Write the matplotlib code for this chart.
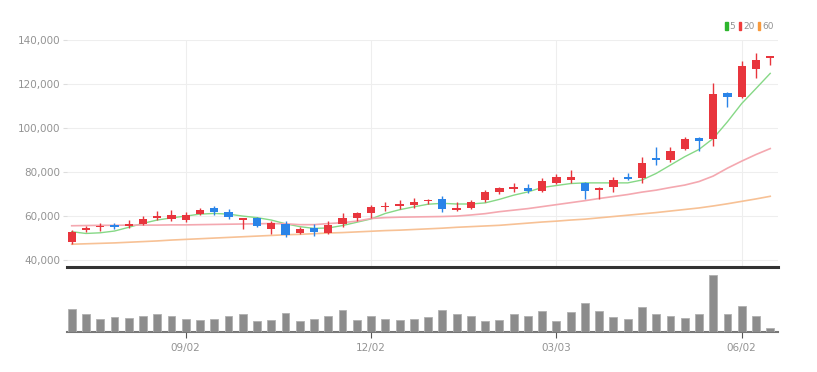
import matplotlib.pyplot as plt
from matplotlib.patches import Patch

# weekly candles (open, high, low, close)
opens = [48100, 53800, 54900, 55900, 55300, 56500, 59000, 58600, 58000, 61100,
         63800, 61700, 58300, 59000, 54100, 56400, 52100, 54700, 52400, 56200,
         59000, 61200, 64000, 64500, 65000, 66700, 67600, 62700, 63500, 67300,
         71000, 72400, 72700, 71500, 74900, 76400, 74900, 71800, 73000, 77900,
         77400, 86400, 85500, 90300, 95500, 94900, 115800, 114000, 127100, 132100]
highs = [53500, 55600, 56800, 56800, 58000, 59900, 62200, 62600, 61800, 63500,
         64600, 63000, 59000, 59700, 57600, 57900, 55200, 56200, 57900, 61500,
         62000, 65000, 66500, 67300, 68000, 67600, 69100, 66500, 67300, 71800,
         73000, 75100, 74500, 77100, 79100, 80900, 75600, 73000, 77900, 79700,
         87000, 91200, 91200, 96100, 96100, 120600, 116500, 130600, 134200, 132700]
lows = [47500, 52600, 53200, 54000, 54400, 55900, 58000, 57700, 57300, 60600,
        60600, 58500, 54100, 54900, 52000, 50600, 51800, 50900, 51800, 55200,
        57900, 59000, 62400, 63000, 63500, 65500, 61800, 62400, 63000, 66500,
        70000, 71000, 70600, 71000, 74500, 74900, 67600, 67600, 71000, 76400,
        74900, 83200, 84700, 90000, 89700, 91800, 109400, 113500, 123000, 128600]
closes = [52900, 54700, 55600, 54900, 56500, 58900, 59900, 60500, 60500, 62600,
          61700, 59400, 59000, 55400, 56700, 51200, 54000, 52900, 55900, 59000,
          61200, 64000, 64700, 65500, 66500, 67300, 63200, 63600, 66500, 71000,
          72600, 73000, 71200, 76000, 77600, 77600, 71500, 72600, 76500, 76700,
          84200, 85500, 89700, 94900, 94300, 115500, 114000, 128200, 131200, 132700]

ma5 = [52900, 52100, 52400, 53200, 54900, 56700, 58200, 59200, 60000, 60900,
       61200, 60900, 60000, 59300, 58200, 56500, 55200, 54400, 54600, 55700,
       57200, 58700, 61200, 62900, 64200, 65400, 65800, 65500, 65500, 66000,
       67600, 69500, 71000, 73000, 73900, 74800, 75100, 75100, 75100, 75100,
       76400, 79400, 83200, 87000, 90300, 95300, 102900, 111200, 118000, 124900]
ma20 = [55600, 55700, 55800, 55800, 55900, 55900, 55900, 56000, 56000, 56100,
        56200, 56300, 56400, 56500, 56600, 56500, 56100, 56100, 56600, 57000,
        57700, 58900, 59300, 59500, 59600, 59700, 59800, 60000, 60500, 61100,
        62000, 62700, 63400, 64300, 65200, 66100, 67000, 68000, 68900, 69800,
        70900, 71800, 73000, 74100, 75700, 78200, 81800, 85000, 88000, 90700]
ma60 = [47200, 47400, 47600, 47800, 48100, 48400, 48700, 49100, 49400, 49700,
        50000, 50300, 50600, 50900, 51200, 51500, 51700, 52000, 52300, 52500,
        52800, 53100, 53400, 53600, 53900, 54200, 54500, 54900, 55200, 55500,
        55800, 56300, 56800, 57300, 57700, 58200, 58600, 59200, 59800, 60400,
        61000, 61600, 62300, 63000, 63700, 64600, 65600, 66700, 67800, 69000]

volumes = [67, 52, 37, 42, 40, 47, 52, 45, 37, 35, 37, 47, 50, 32, 35, 55, 30, 37, 47, 62,
           35, 47, 37, 35, 37, 42, 62, 50, 47, 30, 35, 50, 45, 60, 32, 57, 82, 60, 42, 37,
           72, 52, 45, 40, 50, 163, 50, 75, 47, 10]

tick_pos = [8, 21, 34, 47]
tick_labels = ['09/02', '12/02', '03/03', '06/02']
ytick_vals = [40000, 60000, 80000, 100000, 120000, 140000]

up_col = '#e8353d'
down_col = '#2a84e8'
label_col = '#939393'
font = ['Liberation Sans Narrow', 'DejaVu Sans']

fig = plt.figure(figsize=(8.17, 3.72), dpi=100)
ax = fig.add_axes([0.082, 0.282, 0.870, 0.610])
axv = fig.add_axes([0.082, 0.108, 0.870, 0.166], sharex=ax)

x = list(range(len(closes)))
colors = [up_col if c >= o else down_col for o, c in zip(opens, closes)]
bottoms = [min(o, c) for o, c in zip(opens, closes)]
heights = [max(abs(c - o), 350) for o, c in zip(opens, closes)]

ax.vlines(x, lows, highs, colors=colors, linewidth=1, zorder=3)
ax.bar(x, heights, bottom=bottoms, width=0.58, color=colors, zorder=4)

ax.plot(x, ma5, color='#86d886', lw=1, zorder=2)
ax.plot(x, ma20, color='#f4a8b0', lw=1.2, zorder=2)
ax.plot(x, ma60, color='#f7c195', lw=1.2, zorder=2)

ax.set_xlim(-0.33, 49.53)
ax.set_ylim(36800, 140000)
ax.set_yticks(ytick_vals)
ax.set_yticklabels([f'{v:,}' for v in ytick_vals], color=label_col, fontsize=7.5, family=font)
ax.tick_params(axis='y', length=3, color='#dddddd', pad=2)
ax.tick_params(axis='x', length=0, labelbottom=False)
ax.set_xticks(tick_pos)
ax.grid(True, color='#eeeeee', lw=0.8, zorder=0)
for s in ['top', 'right', 'left']:
    ax.spines[s].set_visible(False)
ax.spines['bottom'].set_color('#333333')
ax.spines['bottom'].set_linewidth(2.2)

axv.bar(x, volumes, width=0.55, color='#8c8c8c', edgecolor='#b0b0b0', linewidth=0.6, zorder=3)
axv.set_ylim(0, 178)
axv.set_yticks([])
axv.set_xticks(tick_pos)
axv.set_xticklabels(tick_labels, color=label_col, fontsize=7.5, family=font)
axv.tick_params(axis='x', length=4, color='#555555', pad=4)
for s in ['top', 'right', 'left']:
    axv.spines[s].set_visible(False)
axv.spines['bottom'].set_color('#777777')
axv.spines['bottom'].set_linewidth(1.5)

handles = [Patch(color='#2db52d', label='5'), Patch(color='#f03c3c', label='20'),
           Patch(color='#f89a3c', label='60')]
fig.legend(handles=handles, loc='upper right', bbox_to_anchor=(0.957, 0.962), ncol=3,
           frameon=False, handlelength=0.3, handleheight=0.9, handletextpad=0.2,
           columnspacing=0.35, prop={'family': font, 'size': 6.5}, labelcolor=label_col)

fig.savefig('out.png', dpi=100)
